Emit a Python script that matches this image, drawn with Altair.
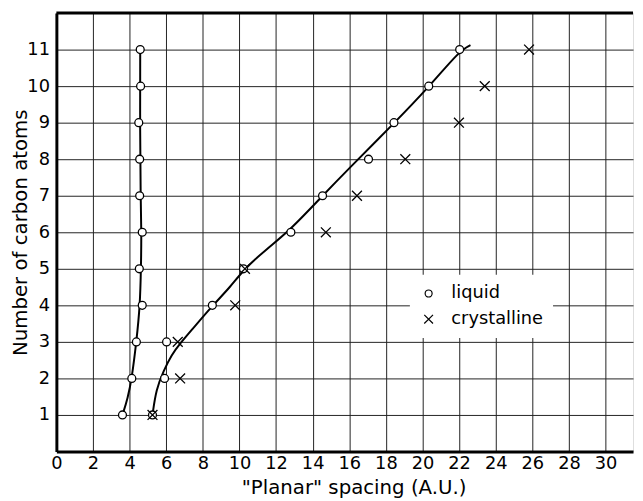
import altair as alt
import pandas as pd

# ---- data ----
carbon = [1, 2, 3, 4, 5, 6, 7, 8, 9, 10, 11]
liquid_left_x = [3.61, 4.12, 4.37, 4.69, 4.53, 4.69, 4.55, 4.55, 4.50, 4.60, 4.58]
liquid_right_x = [5.25, 5.91, 6.02, 8.52, 10.22, 12.81, 14.54, 17.05, 18.44, 20.34, 22.03]
cryst_x = [5.25, 6.76, 6.63, 9.77, 10.30, 14.72, 16.42, 19.06, 21.99, 23.40, 25.82]

# hand-drawn fitted curves (traced)
curve_left_x = [3.61, 3.90, 4.12, 4.37, 4.57, 4.62, 4.65, 4.60, 4.57, 4.58]
curve_left_y = [1.00, 1.46, 2.00, 3.00, 4.00, 5.00, 6.00, 7.00, 8.70, 11.00]
curve_right_x = [5.25, 5.45, 5.85, 6.30, 6.75, 7.40, 8.52, 9.50, 10.23, 11.50, 12.75,
                 14.54, 15.97, 18.44, 20.34, 22.03, 22.62]
curve_right_y = [1.00, 1.70, 2.20, 2.65, 2.95, 3.33, 3.99, 4.50, 4.98, 5.55, 6.05,
                 7.00, 7.74, 8.98, 9.97, 10.97, 11.12]

x_ticks = list(range(0, 31, 2))
y_ticks = carbon
x_max = 31.5
y_max = 12
series = ["liquid", "crystalline"]

FONT = "DejaVu Sans"
XPATH = "M-1.25,-1.25L1.25,1.25M-1.25,1.25L1.25,-1.25"

rows = []
for y, x in zip(carbon, liquid_left_x):
    rows.append({"series": "liquid", "x": x, "y": y})
for y, x in zip(carbon, liquid_right_x):
    rows.append({"series": "liquid", "x": x, "y": y})
for y, x in zip(carbon, cryst_x):
    rows.append({"series": "crystalline", "x": x, "y": y})
points_df = pd.DataFrame(rows)

lrows = []
for i, (x, y) in enumerate(zip(curve_left_x, curve_left_y)):
    lrows.append({"curve": "left", "i": i, "x": x, "y": y})
for i, (x, y) in enumerate(zip(curve_right_x, curve_right_y)):
    lrows.append({"curve": "right", "i": i, "x": x, "y": y})
lines_df = pd.DataFrame(lrows)

xscale = alt.Scale(domain=[0, x_max], nice=False, zero=False)
yscale = alt.Scale(domain=[0, y_max], nice=False, zero=False)

x_axis = alt.Axis(
    values=x_ticks, tickCount=40, format="d", title='"Planar" spacing (A.U.)', grid=True,
    ticks=False, tickSize=0,
    labelPadding=3, labelFontSize=18, labelFont=FONT, labelColor="black",
    labelFlush=False, labelOverlap=False,
    titleFont=FONT, titleFontSize=20, titleFontWeight="normal", titleColor="black",
    titleX=301, titleY=43, titleBaseline="alphabetic", titleAlign="center",
    domainWidth=3, domainColor="black", gridColor="#222222", gridWidth=1,
)
y_axis = alt.Axis(
    values=y_ticks, tickCount=40, format="d", title="Number of carbon atoms", grid=True,
    ticks=False, tickSize=0,
    labelPadding=7, labelFontSize=18, labelFont=FONT, labelColor="black",
    labelFlush=False, labelOverlap=False,
    titleFont=FONT, titleFontSize=20, titleFontWeight="normal", titleColor="black",
    titleX=-30, titleY=222, titleBaseline="alphabetic", titleAlign="center", titleAngle=270,
    domainWidth=3, domainColor="black", gridColor="#222222", gridWidth=1,
)

lines = alt.Chart(lines_df).mark_line(
    color="black", strokeWidth=2, interpolate="basis"
).encode(
    x=alt.X("x:Q", scale=xscale, axis=x_axis),
    y=alt.Y("y:Q", scale=yscale, axis=y_axis),
    detail="curve:N",
    order="i:Q",
)

legend = alt.Legend(
    orient="none", legendX=358, legendY=265, title=None,
    fillColor="white", padding=10, labelFont=FONT, labelFontSize=18,
    labelColor="black", labelOffset=14, rowPadding=8, symbolSize=50,
    symbolStrokeWidth=1.2,
)

points = alt.Chart(points_df).mark_point(
    filled=False, fill="white", fillOpacity=1, strokeWidth=1.3, opacity=1, size=64
).encode(
    x=alt.X("x:Q", scale=xscale),
    y=alt.Y("y:Q", scale=yscale),
    shape=alt.Shape(
        "series:N",
        scale=alt.Scale(domain=series, range=["circle", XPATH]),
        legend=legend,
    ),
    stroke=alt.Stroke(
        "series:N",
        scale=alt.Scale(domain=series, range=["black", "black"]),
        legend=legend,
    ),
)

top_border = alt.Chart().mark_rule(color="black", strokeWidth=3).encode(
    x=alt.datum(0), x2=alt.datum(x_max), y=alt.datum(y_max)
)

chart = alt.layer(lines, points, top_border).properties(
    width=584, height=444,
    autosize=alt.AutoSizeParams(type="none"),
    padding={"left": 49, "top": 2, "right": 2, "bottom": 46},
).configure_view(stroke=None).configure(background="white")

chart.save("out.html", embed_options={"renderer": "svg", "actions": False})
